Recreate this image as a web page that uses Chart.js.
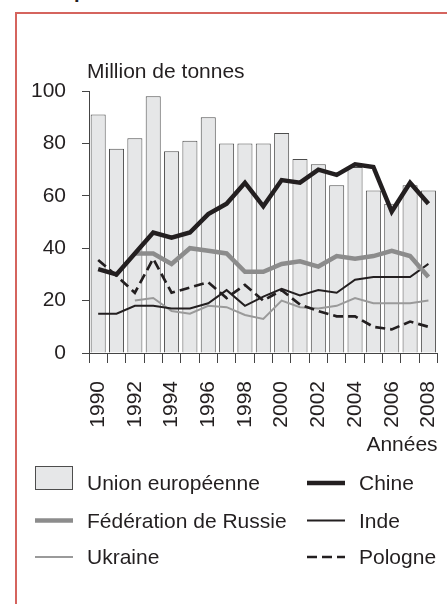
<!DOCTYPE html>
<html>
<head>
<meta charset="utf-8">
<script src="https://cdn.jsdelivr.net/npm/chart.js@4.4.1/dist/chart.umd.min.js"></script>
<style>
  html, body { margin: 0; padding: 0; background: #fff; overflow: hidden; }
  body { width: 447px; height: 604px; position: relative; font-family: "Liberation Sans", Arial, sans-serif; color: #231f20; }
  #frame { position: absolute; left: 15px; top: 12px; width: 470px; height: 640px; border-left: 2px solid #d5645e; border-top: 2px solid #d5645e; }
  #head { position: absolute; left: 74px; top: -21px; font-size: 20px; line-height: 24px; font-weight: bold; }
  #wrap { position: absolute; left: 0; top: 0; width: 447px; height: 604px; }
</style>
</head>
<body>
<div id="frame"></div>
<div id="head">p</div>
<div id="wrap"><canvas id="coalChart"></canvas></div>
<script>
// production de charbon, million de tonnes
const years = ["1990","1991","1992","1993","1994","1995","1996","1997","1998","1999","2000","2001","2002","2003","2004","2005","2006","2007","2008"];
const ue      = [91, 78, 82, 98, 77, 81, 90, 80, 80, 80, 84, 74, 72, 64, 71, 62, 57, 64, 62];
const chine   = [32, 30, 38, 46, 44, 46, 53, 57, 65, 56, 66, 65, 70, 68, 72, 71, 54, 65, 57];
const russie  = [null, null, 38, 38, 34, 40, 39, 38, 31, 31, 34, 35, 33, 37, 36, 37, 39, 37, 29];
const inde    = [15, 15, 18, 18, 17, 17, 19, 24, 18, 21.5, 24.5, 22, 24, 23, 28, 29, 29, 29, 34];
const ukraine = [null, null, 20, 21, 16, 15, 18, 17.5, 14.5, 13, 20, 17.5, 17, 18, 21, 19, 19, 19, 20];
const pologne = [35.5, 29.5, 23, 36, 23, 25, 27, 21, 26, 20, 24, 18.5, 16, 14, 14, 10, 9, 12, 10];
const yTicks  = [0, 20, 40, 60, 80, 100];

const ink = "#231f20";
const font21 = { family: "'Liberation Sans', Arial, sans-serif", size: 21 };

// legend slots: two columns, three rows
const legendPos = [[35, 483], [307, 483], [35, 520.5], [307, 520.5], [35, 557], [307, 557]];

const legendPlugin = {
    id: "sideLegend",
    afterDraw(chart) {
        const ctx = chart.ctx;
        ctx.save();
        ctx.font = "21px 'Liberation Sans', Arial, sans-serif";
        ctx.fillStyle = ink;
        ctx.textBaseline = "alphabetic";
        ctx.fillText("Million de tonnes", 87, 78);
        chart.data.datasets.forEach((ds, i) => {
            const [x, y] = legendPos[i];
            if (ds.type === "bar") {
                ctx.fillStyle = ds.backgroundColor;
                ctx.fillRect(x + 0.5, y - 16.5, 37, 23);
                ctx.strokeStyle = ds.borderColor;
                ctx.lineWidth = 1;
                ctx.strokeRect(x + 0.5, y - 16.5, 37, 23);
            } else {
                ctx.beginPath();
                ctx.strokeStyle = ds.borderColor;
                ctx.lineWidth = ds.borderWidth;
                ctx.setLineDash(ds.borderDash || []);
                ctx.moveTo(x, y);
                ctx.lineTo(x + 38, y);
                ctx.stroke();
                ctx.setLineDash([]);
            }
            ctx.fillStyle = ink;
            ctx.fillText(ds.label, x + 52, y + 7);
        });
        ctx.restore();
    }
};

const chartData = {
    type: "bar",
    data: {
        labels: years,
        datasets: [
            {
                type: "bar",
                label: "Union européenne",
                data: ue,
                backgroundColor: "#e6e7e8",
                borderColor: "#4d4d4d",
                borderWidth: 1,
                barPercentage: 0.82,
                categoryPercentage: 1,
                order: 10
            },
            {
                type: "line",
                label: "Chine",
                data: chine,
                borderColor: ink,
                borderWidth: 4.5,
                pointRadius: 0,
                tension: 0,
                order: 1
            },
            {
                type: "line",
                label: "Fédération de Russie",
                data: russie,
                borderColor: "#8c8c8c",
                borderWidth: 4.5,
                pointRadius: 0,
                tension: 0,
                order: 2
            },
            {
                type: "line",
                label: "Inde",
                data: inde,
                borderColor: ink,
                borderWidth: 2,
                pointRadius: 0,
                tension: 0,
                order: 3
            },
            {
                type: "line",
                label: "Ukraine",
                data: ukraine,
                borderColor: "#9a9a9a",
                borderWidth: 2,
                pointRadius: 0,
                tension: 0,
                order: 4
            },
            {
                type: "line",
                label: "Pologne",
                data: pologne,
                borderColor: ink,
                borderWidth: 2.7,
                borderDash: [10, 5],
                pointRadius: 0,
                tension: 0,
                order: 3
            }
        ]
    },
    options: {
        responsive: true,
        maintainAspectRatio: false,
        animation: false,
        layout: { padding: { top: 91, right: 9.4, left: 0, bottom: 146 } },
        plugins: {
            legend: { display: false },
            tooltip: { enabled: false }
        },
        scales: {
            x: {
                offset: true,
                grid: { offset: true, drawOnChartArea: false, drawTicks: true, tickLength: 10, color: "#444" },
                border: { color: "#444", width: 1 },
                ticks: {
                    color: ink,
                    font: font21,
                    autoSkip: false,
                    maxRotation: 90,
                    minRotation: 90,
                    padding: 18,
                    callback: (v, i) => (i % 2 === 0 ? years[i] : "")
                },
                title: { display: true, text: "Années", align: "end", color: ink, font: font21, padding: 0 },
                afterFit: (s) => {
                    s.height = 105;
                    s.paddingLeft = 0;
                    s.paddingRight = 0;
                }
            },
            y: {
                min: 0,
                max: 100,
                afterBuildTicks: (s) => { s.ticks = yTicks.map(v => ({ value: v })); },
                grid: { drawOnChartArea: false, drawTicks: true, tickLength: 7, color: "#444" },
                border: { color: "#444", width: 1 },
                ticks: { color: ink, font: font21, padding: 16 },
                afterFit: (s) => {
                    s.width = 89;
                    s.paddingTop = 0;
                    s.paddingBottom = 0;
                }
            }
        }
    },
    plugins: [legendPlugin]
};

const coalChart = new Chart("coalChart", chartData);
</script>
</body>
</html>
